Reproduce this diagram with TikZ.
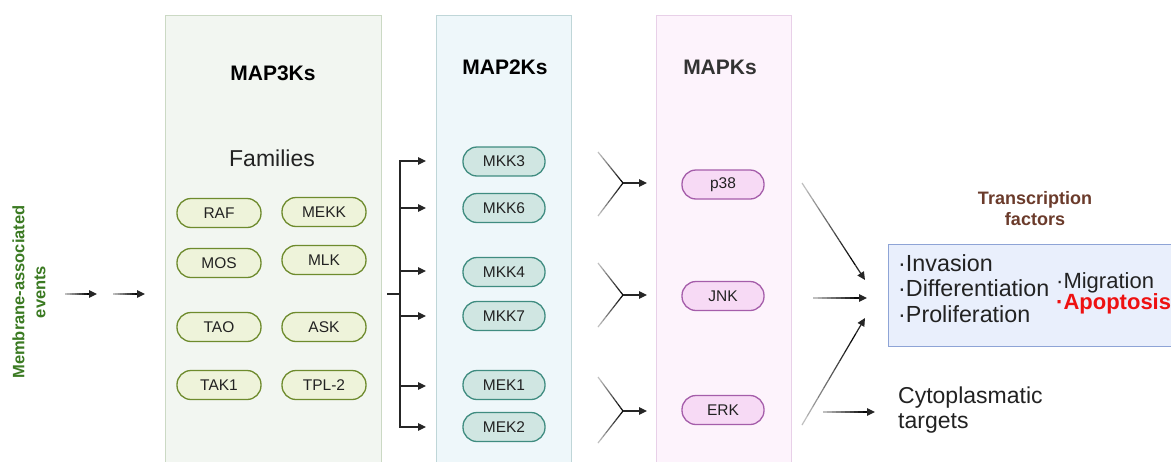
\documentclass[tikz,border=0pt]{standalone}
\usepackage{fontspec}
\setmainfont{Liberation Sans}
\usetikzlibrary{arrows.meta,calc}
\definecolor{pthreefill}{HTML}{F2F6F1}
\definecolor{pthreedraw}{HTML}{CBD9C4}
\definecolor{ptwofill}{HTML}{EEF7FA}
\definecolor{ptwodraw}{HTML}{BFD6D8}
\definecolor{ponefill}{HTML}{FDF3FC}
\definecolor{ponedraw}{HTML}{E8D0E8}
\definecolor{famfill}{HTML}{EEF3DA}
\definecolor{famdraw}{HTML}{6E8B2D}
\definecolor{mkkfill}{HTML}{D0E6E2}
\definecolor{mkkdraw}{HTML}{3F8C80}
\definecolor{mapkfill}{HTML}{F7DAF5}
\definecolor{mapkdraw}{HTML}{A55DAA}
\definecolor{tffill}{HTML}{E9EFFC}
\definecolor{tfdraw}{HTML}{8EA4D6}
\definecolor{memgreen}{HTML}{3B7A22}
\definecolor{tfbrown}{HTML}{6B3B2B}
\definecolor{txt}{HTML}{222222}
\definecolor{apored}{HTML}{EE1111}
\newcommand\fadeln[2]{%
  \foreach \k [evaluate=\k as \c using int(25+8*\k)] in {0,...,9}{%
    \draw[line width=1.2pt, draw=black!\c] ($(#1)!\k/10!(#2)$) -- ($(#1)!{(\k+1)/10}!(#2)$);}}
\begin{document}
\begin{tikzpicture}[x=1pt,y=-1pt,
  panel/.style={line width=1.3pt, anchor=north west, inner sep=0pt},
  chip/.style={rounded corners=14pt, line width=1.3pt, minimum height=29pt, inner sep=0pt,
    text=txt, font=\fontsize{15.5}{18}\selectfont},
  fam/.style={chip, fill=famfill, draw=famdraw, minimum width=84pt},
  mkk/.style={chip, fill=mkkfill, draw=mkkdraw, minimum width=82pt},
  mapk/.style={chip, fill=mapkfill, draw=mapkdraw, minimum width=82pt},
  title/.style={font=\fontsize{21}{24}\selectfont\bfseries, text=black},
  arr/.style={line width=1.2pt, draw=black!85, -{Triangle[length=8pt,width=7.5pt]}},
  ln/.style={line width=1.2pt, draw=black!85},
  bigtxt/.style={anchor=north west, align=left, inner sep=0pt, text=txt},
]
\useasboundingbox (0,0) rectangle (1171,461);
\fill[white] (0,0) rectangle (1171,461);
% panels
\node[panel, fill=pthreefill, draw=pthreedraw, minimum width=216pt, minimum height=460pt] (pthree) at (165,15) {};
\node[panel, fill=ptwofill, draw=ptwodraw, minimum width=135pt, minimum height=460pt] (ptwo) at (436,15) {};
\node[panel, fill=ponefill, draw=ponedraw, minimum width=135pt, minimum height=460pt] (pone) at (656,15) {};
% titles
\node[title] (t3) at (273,73) {MAP3Ks};
\node[title] (t2) at (505,67) {MAP2Ks};
\node[title, text=black!80] (t1) at (720,67) {MAPKs};
\node[font=\fontsize{23}{26}\selectfont, text=txt] (families) at (272,158) {Families};
% MAP3K families
\node[fam] (raf) at (219,213) {RAF};
\node[fam] (mekk) at (324,212) {MEKK};
\node[fam] (mos) at (219,263) {MOS};
\node[fam] (mlk) at (324,260) {MLK};
\node[fam] (tao) at (219,327) {TAO};
\node[fam] (ask) at (324,327) {ASK};
\node[fam] (tak) at (219,385) {TAK1};
\node[fam] (tpl) at (324,385) {TPL-2};
% MAP2Ks
\node[mkk] (mkk3) at (504,161.5) {MKK3};
\node[mkk] (mkk6) at (504,208) {MKK6};
\node[mkk] (mkk4) at (504,272) {MKK4};
\node[mkk] (mkk7) at (504,316) {MKK7};
\node[mkk] (mek1) at (504,385) {MEK1};
\node[mkk] (mek2) at (504,427) {MEK2};
% MAPKs
\node[mapk] (p38) at (723,184.5) {p38};
\node[mapk] (jnk) at (723,296) {JNK};
\node[mapk] (erk) at (723,410) {ERK};
% membrane
\node[rotate=90, align=center, text=memgreen, font=\fontsize{16.5}{21}\selectfont\bfseries] (mem) at (29,292) {Membrane-associated\\events};
\coordinate (m1) at (65,294); \coordinate (m2) at (97,294);
\coordinate (m3) at (113,294); \coordinate (m4) at (145,294);
\coordinate (m2a) at ($(m1)!0.75!(m2)$);
\coordinate (m4a) at ($(m3)!0.75!(m4)$);
\fadeln{m1}{m2a}
\draw[arr] (m2a) -- (m2);
\fadeln{m3}{m4a}
\draw[arr] (m4a) -- (m4);
% branch
\coordinate (b0) at (387,294);
\coordinate (b1) at (400,294);
\draw[ln] (b0) -- (b1);
\draw[ln] (400,160.4) -- (400,427.6);
\foreach \y in {161, 208, 271, 316, 386, 427}{
  \draw[arr] (400,\y) -- (426,\y);
}
% Y junctions
\coordinate (jnp38) at (623,183);
\coordinate (jnjnk) at (623,295);
\coordinate (jnerk) at (623,411);
\coordinate (ya1) at (598,152); \coordinate (yb1) at (598,216);
\coordinate (ya2) at (598,263); \coordinate (yb2) at (598,327);
\coordinate (ya3) at (598,377); \coordinate (yb3) at (598,443);
\fadeln{ya1}{jnp38} \fadeln{yb1}{jnp38}
\fadeln{ya2}{jnjnk} \fadeln{yb2}{jnjnk}
\fadeln{ya3}{jnerk} \fadeln{yb3}{jnerk}
\draw[arr] (jnp38) -- (647,183);
\draw[arr] (jnjnk) -- (647,295);
\draw[arr] (jnerk) -- (647,411);
% transcription factors box
\node[panel, fill=tffill, draw=tfdraw, minimum width=290pt, minimum height=102pt] (tf) at (888,244) {};
\node[align=center, text=tfbrown, font=\fontsize{18}{21}\selectfont\bfseries] (tft) at (1035,209) {Transcription\\factors};
\node[bigtxt, font=\fontsize{23.3}{25.5}\selectfont] (tfl) at (898,254) {·Invasion\\·Differentiation\\·Proliferation};
\node[bigtxt, font=\fontsize{22}{21.5}\selectfont] (tfr) at (1056,272) {·Migration\\\textcolor{apored}{\bfseries ·Apoptosis}};
\node[bigtxt, font=\fontsize{23}{25}\selectfont] (cyto) at (898,387) {Cytoplasmatic\\targets};
% arrows to outputs
\coordinate (r1s) at (802,183); \coordinate (r1e) at (865,280);
\coordinate (r2s) at (813,298); \coordinate (r2e) at (867,298);
\coordinate (r3s) at (802,425); \coordinate (r3e) at (865,318);
\coordinate (r4s) at (823,412); \coordinate (r4e) at (875,412);
\foreach \s/\e in {r1s/r1e, r2s/r2e, r3s/r3e, r4s/r4e}{
  \coordinate (\s m) at ($(\s)!0.85!(\e)$);
  \fadeln{\s}{\s m}
  \draw[arr] (\s m) -- (\e);
}
\end{tikzpicture}
\end{document}
